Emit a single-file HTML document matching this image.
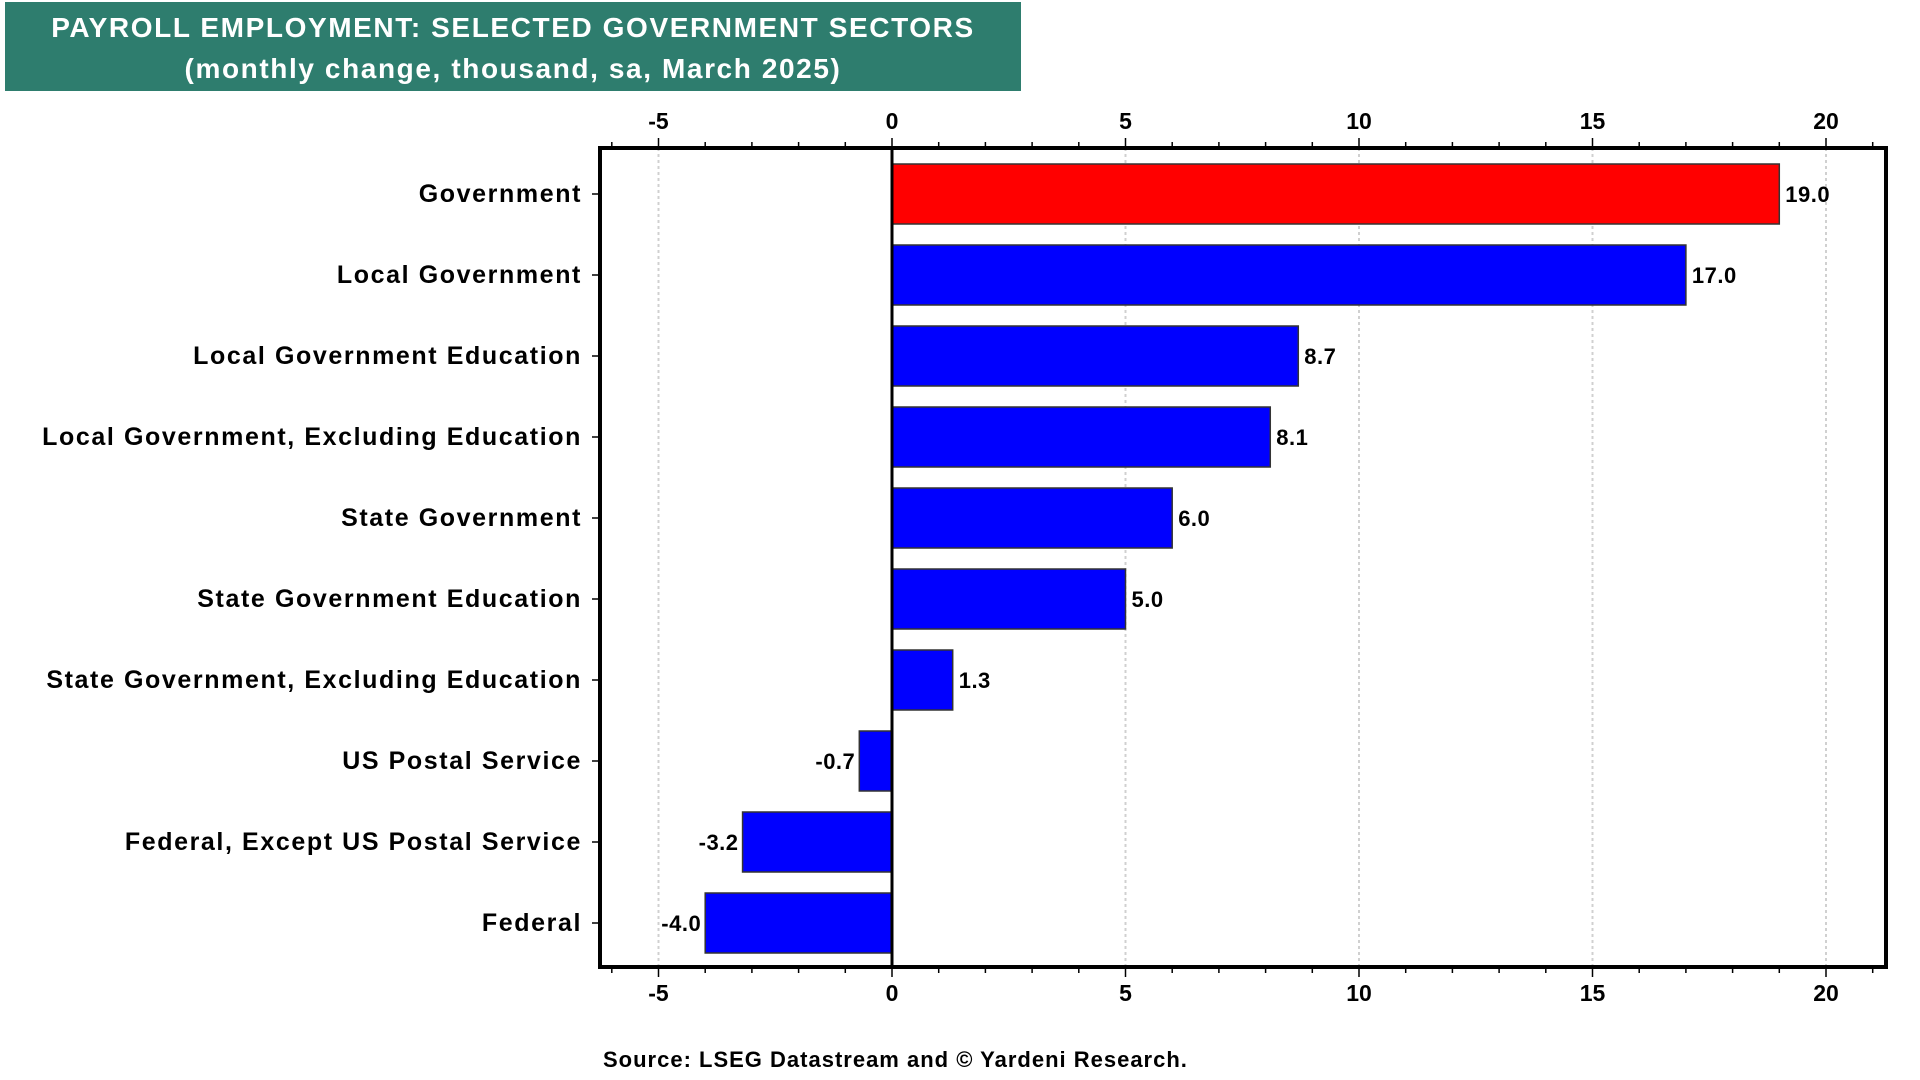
<!DOCTYPE html>
<html><head><meta charset="utf-8">
<style>
html,body{margin:0;padding:0;background:#fff;}
body{width:1920px;height:1080px;position:relative;overflow:hidden;font-family:"Liberation Sans",Arial,sans-serif;}
#title{position:absolute;left:5px;top:2px;width:1016px;height:89px;background:#2e7d6e;color:#fff;font-weight:bold;font-size:28px;letter-spacing:1.6px;text-align:center;line-height:41px;padding-top:5px;box-sizing:border-box;}
</style></head>
<body>
<div id="title">PAYROLL EMPLOYMENT: SELECTED GOVERNMENT SECTORS<br>(monthly change, thousand, sa, March 2025)</div>
<svg id="chart" width="1920" height="1080" style="position:absolute;left:0;top:0"></svg>
<script>
const categories=["Government","Local Government","Local Government Education","Local Government, Excluding Education","State Government","State Government Education","State Government, Excluding Education","US Postal Service","Federal, Except US Postal Service","Federal"];
const values=[19.0,17.0,8.7,8.1,6.0,5.0,1.3,-0.7,-3.2,-4.0];
const valueLabels=["19.0","17.0","8.7","8.1","6.0","5.0","1.3","-0.7","-3.2","-4.0"];
const tickValues=[-5,0,5,10,15,20];
const tickLabels=["-5","0","5","10","15","20"];

const svg=document.getElementById('chart');
const NS='http://www.w3.org/2000/svg';
const L=600,R=1886,T=148,B=967;
const x0=892,ppu=46.7;
function xs(v){return x0+v*ppu;}
function yc(i){return 194+81*i;}
function mk(tag,attrs,parent){const e=document.createElementNS(NS,tag);for(const k in attrs)e.setAttribute(k,attrs[k]);(parent||svg).appendChild(e);return e;}

tickValues.forEach((v)=>{
  const g=mk('line',{x1:xs(v),x2:xs(v),y1:T,y2:B,stroke:'#d0d0d0','stroke-width':2,'stroke-dasharray':'3,3'});
  
  
});
for(let v=-6;v<=21;v++){
  const x=xs(v); if(x<L||x>R)continue;
  const len=(v%5===0)?10:6;
  const t1=mk('line',{x1:x,x2:x,y1:T-len,y2:T,stroke:'#000','stroke-width':1.5});
  
  
  const t2=mk('line',{x1:x,x2:x,y1:B,y2:B+len,stroke:'#000','stroke-width':1.5});
  
  
}
tickValues.forEach((v,i)=>{
  const a=mk('text',{x:xs(v),y:129,'text-anchor':'middle','font-size':23,'font-weight':'bold',fill:'#000'});
  a.textContent=tickLabels[i];
  
  
  const b=mk('text',{x:xs(v),y:1001,'text-anchor':'middle','font-size':23,'font-weight':'bold',fill:'#000'});
  b.textContent=tickLabels[i];
  
  
});
values.forEach((v,i)=>{
  const y=yc(i)-30;
  const xa=Math.min(xs(0),xs(v)),w=Math.abs(xs(v)-xs(0));
  const r=mk('rect',{x:xa,y:y,width:w,height:60,fill:i===0?'#ff0000':'#0000ff',stroke:'#333','stroke-width':1.5});
  
  
  const t=mk('text',{x:v>=0?xs(v)+6:xs(v)-4,y:yc(i)+8,'text-anchor':v>=0?'start':'end','font-size':22,'letter-spacing':'0.5','font-weight':'bold',fill:'#000'});
  t.textContent=valueLabels[i];
  
  
  const c=mk('text',{x:582,y:yc(i)+8,'text-anchor':'end','font-size':25,'letter-spacing':'1.6','font-weight':'bold',fill:'#000'});
  c.textContent=categories[i];
  
  
  const tk=mk('line',{x1:592,x2:L,y1:yc(i),y2:yc(i),stroke:'#000','stroke-width':1.5});
  
  
});
const z=mk('line',{x1:x0,x2:x0,y1:T,y2:B,stroke:'#000','stroke-width':3});


const f=mk('rect',{x:L,y:T,width:R-L,height:B-T,fill:'none',stroke:'#000','stroke-width':4});


const s=mk('text',{x:603,y:1067,'font-size':22,'letter-spacing':'1','font-weight':'bold',fill:'#000'});
s.textContent='Source: LSEG Datastream and © Yardeni Research.';


</script>
</body></html>
